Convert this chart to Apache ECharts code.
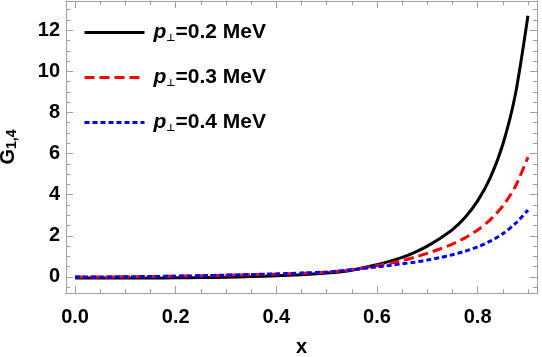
<!DOCTYPE html>
<html>
<head>
<meta charset="utf-8">
<script src="https://cdn.jsdelivr.net/npm/echarts@6/dist/echarts.min.js"></script>
<style>
  html, body { margin: 0; padding: 0; background: #fff; }
  #chart { width: 542px; height: 357px; }
</style>
</head>
<body>
<div id="chart"></div>
<script>
// values
const xs = [0, 0.05, 0.1, 0.15, 0.2, 0.25, 0.3, 0.35, 0.4, 0.45, 0.5, 0.55, 0.6, 0.625, 0.65, 0.675, 0.7, 0.725, 0.75, 0.775, 0.8, 0.825, 0.85, 0.875, 0.9]
const g02 = [-0.05, -0.05, -0.05, -0.05, -0.04, -0.03, -0.01, 0.02, 0.06, 0.11, 0.19, 0.33, 0.6, 0.76, 0.95, 1.2, 1.5, 1.87, 2.3, 2.89, 3.7, 4.82, 6.44, 8.87, 12.7]
const g03 = [0, 0, 0.01, 0.02, 0.04, 0.06, 0.08, 0.11, 0.14, 0.18, 0.23, 0.36, 0.55, 0.66, 0.8, 0.96, 1.15, 1.36, 1.6, 1.9, 2.28, 2.78, 3.45, 4.4, 5.83]
const g04 = [0, 0, 0.01, 0.02, 0.04, 0.06, 0.09, 0.12, 0.15, 0.19, 0.24, 0.35, 0.49, 0.56, 0.64, 0.72, 0.82, 0.94, 1.08, 1.25, 1.46, 1.74, 2.1, 2.6, 3.25]
const seriesLabels = ['0.2', '0.3', '0.4']

const xMajor = [0, 0.2, 0.4, 0.6, 0.8]
const xMinor = [0, 0.05, 0.1, 0.15, 0.2, 0.25, 0.3, 0.35, 0.4, 0.45, 0.5, 0.55, 0.6, 0.65, 0.7, 0.75, 0.8, 0.85, 0.9]
const yMajor = [0, 2, 4, 6, 8, 10, 12]
const yMinor = [-0.5, 0, 0.5, 1, 1.5, 2, 2.5, 3, 3.5, 4, 4.5, 5, 5.5, 6, 6.5, 7, 7.5, 8, 8.5, 9, 9.5, 10, 10.5, 11, 11.5, 12, 12.5, 13]

const xMin = -0.018, xMax = 0.918
const yMin = -0.78, yMax = 13.42
const frameColor = '#a0a0a0'
const font = 'Liberation Sans, Arial, sans-serif'

function pairs (ys) {
  return xs.map((x, i) => [x, ys[i]])
}

// one axis = frame side; show labels only on bottom/left
function xAxisDef (position, ticks, len, withLabels) {
  return {
    type: 'value', position, min: xMin, max: xMax,
    axisLine: { show: true, onZero: false, lineStyle: { color: frameColor, width: 1 } },
    axisTick: { show: true, inside: true, length: len, customValues: ticks, lineStyle: { color: frameColor } },
    axisLabel: withLabels ? {
      show: true, customValues: xMajor, margin: 14,
      fontFamily: font, fontWeight: 'bold', fontSize: 20, color: '#000',
      formatter: v => v.toFixed(1)
    } : { show: false },
    splitLine: { show: false }
  }
}
function yAxisDef (position, ticks, len, withLabels) {
  return {
    type: 'value', position, min: yMin, max: yMax,
    axisLine: { show: true, onZero: false, lineStyle: { color: frameColor, width: 1 } },
    axisTick: { show: true, inside: true, length: len, customValues: ticks, lineStyle: { color: frameColor } },
    axisLabel: withLabels ? {
      show: true, customValues: yMajor, margin: 6,
      fontFamily: font, fontWeight: 'bold', fontSize: 20, color: '#000'
    } : { show: false },
    splitLine: { show: false }
  }
}

const xA = [
  xAxisDef('bottom', xMajor, 7, true),
  xAxisDef('bottom', xMinor, 4, false),
  xAxisDef('top', xMajor, 7, false),
  xAxisDef('top', xMinor, 4, false)
]
xA[0].name = 'x'
xA[0].nameLocation = 'middle'
xA[0].nameGap = 44
xA[0].nameTextStyle = { fontFamily: font, fontWeight: 'bold', fontSize: 20, color: '#000' }

const yA = [
  yAxisDef('left', yMajor, 7, true),
  yAxisDef('left', yMinor, 4, false),
  yAxisDef('right', yMajor, 7, false),
  yAxisDef('right', yMinor, 4, false)
]
yA[0].name = '{g|G}{s|1,4}'
yA[0].nameLocation = 'middle'
yA[0].nameGap = 47
yA[0].nameTextStyle = {
  rich: {
    g: { fontFamily: font, fontWeight: 'bold', fontSize: 20, color: '#000' },
    s: { fontFamily: font, fontWeight: 'bold', fontSize: 14, color: '#000', verticalAlign: 'bottom', padding: [8, 0, 0, 0] }
  }
}

const colors = ['#000000', '#ff0000', '#0000ff']
const dashes = ['solid', [10, 5], [5, 3]]
const dataSets = [g02, g03, g04]

const chart = echarts.init(document.getElementById('chart'), null, { renderer: 'canvas' })
chart.setOption({
  animation: false,
  grid: { left: 66, right: 5, top: 1, bottom: 64, containLabel: false, outerBoundsMode: 'none' },
  xAxis: xA,
  yAxis: yA,
  legend: {
    show: true,
    orient: 'vertical',
    left: 83,
    top: 22,
    padding: 0,
    itemWidth: 60,
    itemHeight: 14,
    itemGap: 24,
    itemStyle: { opacity: 0 },
    lineStyle: { width: 3 },
    formatter: name => '{p|p}{s|⊥}{t|=' + name + ' MeV}',
    textStyle: {
      rich: {
        p: { fontFamily: font, fontStyle: 'italic', fontWeight: 'bold', fontSize: 21, color: '#000', padding: [0, 0, 0, 4] },
        s: { fontFamily: 'DejaVu Sans', fontWeight: 'bold', fontSize: 10, color: '#000', verticalAlign: 'bottom', padding: [9, 0, 0, 0] },
        t: { fontFamily: font, fontWeight: 'bold', fontSize: 21, color: '#000' }
      }
    }
  },
  series: dataSets.map((d, i) => ({
    name: seriesLabels[i],
    type: 'line',
    data: pairs(d),
    smooth: 0.25,
    showSymbol: false,
    symbol: 'none',
    lineStyle: { color: colors[i], width: 3, type: dashes[i] },
    itemStyle: { color: colors[i] }
  }))
})
</script>
</body>
</html>
